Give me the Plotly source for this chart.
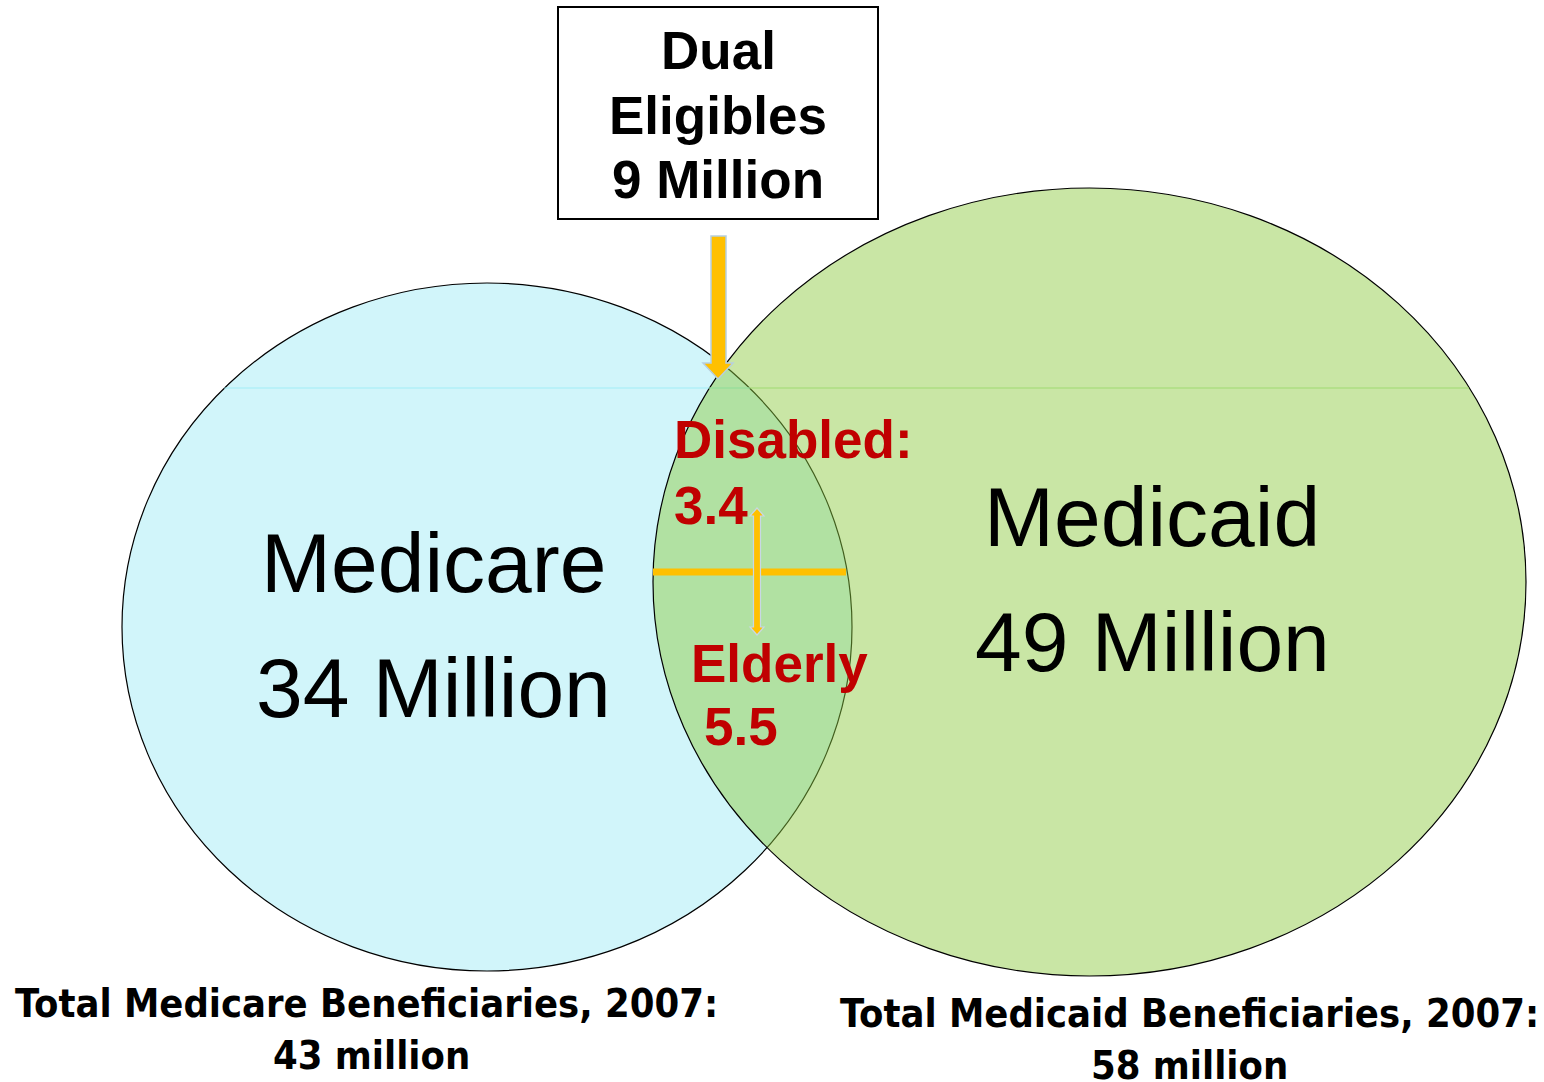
import plotly.graph_objects as go

# ---- data ----
programs = ["Medicare", "Medicaid"]
only_millions = [34, 49]          # beneficiaries in one program only
total_millions = [43, 58]         # total beneficiaries, 2007
year = 2007
dual_millions = 9
dual_groups = ["Disabled:", "Elderly"]
dual_group_millions = [3.4, 5.5]

W, H = 1544, 1082
fig = go.Figure()

# ellipses (layout geometry)
ell = {
    "Medicare": dict(x0=122, x1=852, y0=283, y1=971, fill="#D1F5FA"),
    "Medicaid": dict(x0=653, x1=1526, y0=188, y1=976, fill="rgba(140,202,64,0.47)"),
}
for p in programs:
    e = ell[p]
    fig.add_shape(type="circle", xref="x", yref="y", x0=e["x0"], x1=e["x1"],
                  y0=e["y0"], y1=e["y1"], fillcolor=e["fill"],
                  line=dict(color="black", width=1.2), layer="above")

# faint gradient seam lines
fig.add_shape(type="line", x0=224, x1=750, y0=388, y1=388,
              line=dict(color="rgba(150,235,245,0.8)", width=1.2))
fig.add_shape(type="line", x0=709, x1=1469, y0=388, y1=388,
              line=dict(color="rgba(150,215,100,0.8)", width=1.2))

# callout box
fig.add_shape(type="rect", x0=558, x1=878, y0=7, y1=219,
              line=dict(color="black", width=2), fillcolor="white")

# down arrow
fig.add_shape(type="path",
              path="M711,236 L726,236 L726,363 L733,363 L718,379 L703,363 L711,363 Z",
              fillcolor="#FFC000", line=dict(color="#B7CFDF", width=1.5))

# cross in the overlap
fig.add_shape(type="line", x0=653, x1=846, y0=572, y1=572,
              line=dict(color="#FFC000", width=7))
fig.add_shape(type="path",
              path="M757,508 L764,516 L760.5,516 L760.5,627 L764,627 L757,635 L750,627 L753.5,627 L753.5,516 L750,516 Z",
              fillcolor="#FFC000", line=dict(color="#C8D8E4", width=1.2))

# ---- text ----
big = dict(family="Liberation Sans, Arial, sans-serif", size=84, color="black")
pos_only = {"Medicare": (433, 563, 688), "Medicaid": (1152, 517, 642)}
for p, v in zip(programs, only_millions):
    x, y1, y2 = pos_only[p]
    fig.add_annotation(x=x, y=y1, text=p, showarrow=False, font=big,
                       xanchor="center", yanchor="middle")
    fig.add_annotation(x=x, y=y2, text=f"{v} Million", showarrow=False, font=big,
                       xanchor="center", yanchor="middle")

box_font = dict(family="Liberation Sans, Arial, sans-serif", size=53, color="black")
for txt, y in zip(["<b>Dual</b>", "<b>Eligibles</b>", f"<b>{dual_millions} Million</b>"],
                  [50, 115, 179]):
    fig.add_annotation(x=718, y=y, text=txt, showarrow=False, font=box_font,
                       xanchor="center", yanchor="middle")

red = dict(family="Liberation Sans, Arial, sans-serif", size=53, color="#C00000")
grp_pos = [((672, 439), (672, 505)), ((689, 663), (702, 726))]
for lab, val, (p1, p2) in zip(dual_groups, dual_group_millions, grp_pos):
    fig.add_annotation(x=p1[0], y=p1[1], text=f"<b>{lab}</b>", showarrow=False,
                       font=red, xanchor="left", yanchor="middle")
    fig.add_annotation(x=p2[0], y=p2[1], text=f"<b>{val}</b>", showarrow=False,
                       font=red, xanchor="left", yanchor="middle")

foot = dict(family="DejaVu Sans Condensed, Liberation Sans Narrow, sans-serif",
            size=39.5, color="black")
foot_pos = {"Medicare": (366, 1003, 371, 1055), "Medicaid": (1189, 1013, 1189, 1065)}
for p, t in zip(programs, total_millions):
    x1, y1, x2, y2 = foot_pos[p]
    fig.add_annotation(x=x1, y=y1, text=f"<b>Total {p} Beneficiaries, {year}:</b>",
                       showarrow=False, font=foot, xanchor="center", yanchor="middle")
    fig.add_annotation(x=x2, y=y2, text=f"<b>{t} million</b>",
                       showarrow=False, font=foot, xanchor="center", yanchor="middle")

fig.update_layout(
    width=W, height=H, margin=dict(l=0, r=0, t=0, b=0),
    paper_bgcolor="white", plot_bgcolor="white", showlegend=False,
    xaxis=dict(range=[0, W], visible=False, fixedrange=True),
    yaxis=dict(range=[H, 0], visible=False, fixedrange=True),
)
fig.write_html("out.html", config={"displayModeBar": False},
               post_script="document.body.style.margin='0';")
